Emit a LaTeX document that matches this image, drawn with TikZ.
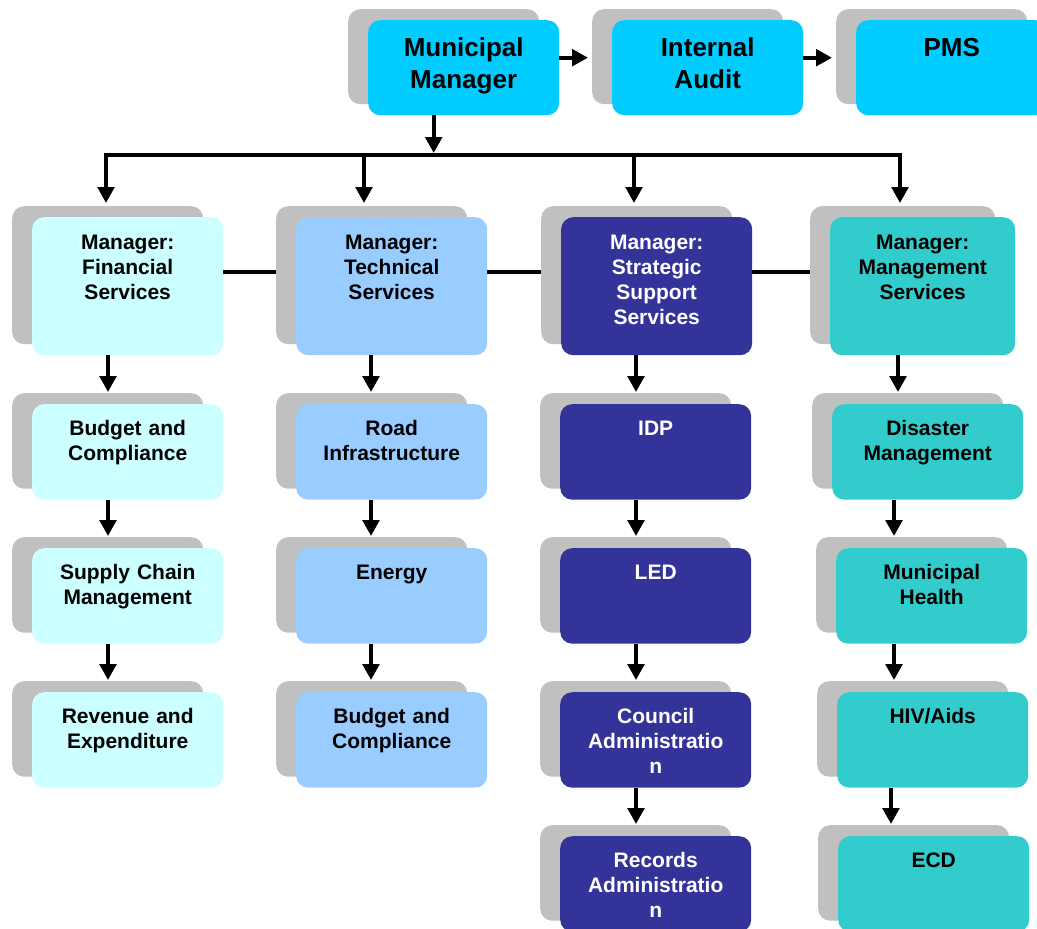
\documentclass[tikz,border=0pt]{standalone}
\usepackage{fontspec}
\setmainfont{Liberation Sans}
\usepackage{xcolor}
\usetikzlibrary{arrows.meta,shadows}
\definecolor{headblue}{HTML}{00CCFF}
\definecolor{finblue}{HTML}{CCFFFF}
\definecolor{techblue}{HTML}{99CCFF}
\definecolor{stratblue}{HTML}{333399}
\definecolor{mgmtteal}{HTML}{33CCCC}
\definecolor{shadegray}{HTML}{C0C0C0}
\tikzset{
  unitbox/.style={anchor=north west, inner sep=0pt, rounded corners=12pt,
    text width=191pt, align=center, font=\bfseries\fontsize{21}{25}\selectfont,
    general shadow={fill=shadegray, shadow xshift=-20pt, shadow yshift=11pt}},
  headbox/.style={unitbox, fill=headblue, font=\bfseries\fontsize{26}{32}\selectfont,
    text height=36pt, text depth=59pt},
  mgrbox/.style={unitbox, text height=32.5pt, text depth=105.5pt},
  subbox/.style={unitbox, text height=31.5pt, text depth=64pt},
  arr/.style={line width=4pt, -{Triangle[width=16.5pt,length=16pt]}},
  link/.style={line width=4pt}
}
\begin{document}
\begin{tikzpicture}[x=1pt, y=-1pt]
  \path[use as bounding box] (0,0) rectangle (1037,929);
  \clip (0,0) rectangle (1037,929);

  \node[headbox] (mm) at (368,20) {Municipal\\Manager};
  \node[headbox] (ia) at (612,20) {Internal\\Audit};
  \node[headbox] (pms) at (856,20) {PMS};

  \node[mgrbox, fill=finblue] (fin) at (32,217) {Manager:\\Financial\\Services};
  \node[subbox, fill=finblue] (bc1) at (32,404) {Budget and\\Compliance};
  \node[subbox, fill=finblue] (scm) at (32,548) {Supply Chain\\Management};
  \node[subbox, fill=finblue] (rev) at (32,692) {Revenue and\\Expenditure};

  \node[mgrbox, fill=techblue] (tech) at (296,217) {Manager:\\Technical\\Services};
  \node[subbox, fill=techblue] (road) at (296,404) {Road\\Infrastructure};
  \node[subbox, fill=techblue] (energy) at (296,548) {Energy};
  \node[subbox, fill=techblue] (bc2) at (296,692) {Budget and\\Compliance};

  \node[mgrbox, fill=stratblue, text=white] (strat) at (561,217) {Manager:\\Strategic\\Support\\Services};
  \node[subbox, fill=stratblue, text=white] (idp) at (560,404) {IDP};
  \node[subbox, fill=stratblue, text=white] (led) at (560,548) {LED};
  \node[subbox, fill=stratblue, text=white] (council) at (560,692) {Council\\Administratio\\n};
  \node[subbox, fill=stratblue, text=white] (records) at (560,836) {Records\\Administratio\\n};

  \node[mgrbox, fill=mgmtteal, text width=185pt] (mgmt) at (830,217) {Manager:\\Management\\Services};
  \node[subbox, fill=mgmtteal] (disaster) at (832,404) {Disaster\\Management};
  \node[subbox, fill=mgmtteal] (health) at (836,548) {Municipal\\Health};
  \node[subbox, fill=mgmtteal] (hiv) at (837,692) {HIV/Aids};
  \node[subbox, fill=mgmtteal] (ecd) at (838,836) {ECD};

  \draw[arr] ([yshift=10pt]mm.east) -- ([xshift=-24pt,yshift=10pt]ia.west);
  \draw[arr] ([yshift=10pt]ia.east) -- ([xshift=-24pt,yshift=10pt]pms.west);

  \coordinate (busl) at (104,155);
  \coordinate (busr) at (902,155);
  \draw[arr] ([xshift=-30pt]mm.south) -- ([xshift=-30pt,yshift=2pt]mm.south |- busl);
  \draw[link] (busl) -- (busr);
  \foreach \n/\x in {fin/106, tech/364, strat/634, mgmt/900}
    \draw[arr] (busl -| \x,0) -- ([yshift=14pt]\n.north -| \x,0);

  \draw[link] ([yshift=14pt]fin.east) -- ([xshift=-20pt,yshift=14pt]tech.west);
  \draw[link] ([yshift=14pt]tech.east) -- ([xshift=-20pt,yshift=14pt]strat.west);
  \draw[link] ([yshift=14pt]strat.east) -- ([xshift=-20pt,yshift=14pt]mgmt.west);

  \foreach \a/\b/\x in {fin/bc1/108, bc1/scm/108, scm/rev/108,
      tech/road/371, road/energy/371, energy/bc2/371,
      strat/idp/636, idp/led/636, led/council/636, council/records/636,
      mgmt/disaster/898, disaster/health/894, health/hiv/894, hiv/ecd/891}
    \draw[arr] (\a.south -| \x,0) -- ([yshift=12pt]\b.north -| \x,0);
\end{tikzpicture}
\end{document}
